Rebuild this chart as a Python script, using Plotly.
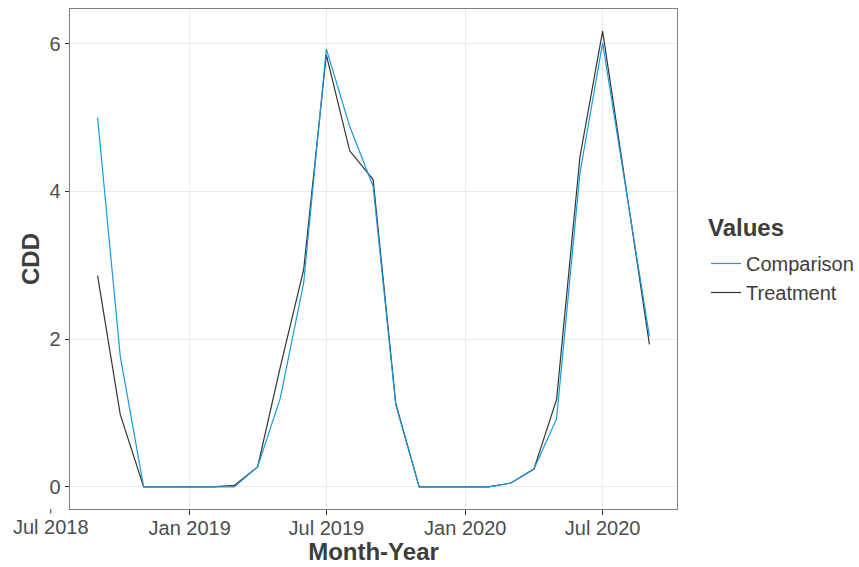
import plotly.graph_objects as go
import pandas as pd

# ---- data ----
months = ["2018-09-01", "2018-10-01", "2018-11-01", "2018-12-01",
          "2019-01-01", "2019-02-01", "2019-03-01", "2019-04-01",
          "2019-05-01", "2019-06-01", "2019-07-01", "2019-08-01",
          "2019-09-01", "2019-10-01", "2019-11-01", "2019-12-01",
          "2020-01-01", "2020-02-01", "2020-03-01", "2020-04-01",
          "2020-05-01", "2020-06-01", "2020-07-01", "2020-09-01"]
comparison = [5.00, 1.77, 0.00, 0.00, 0.00, 0.00, 0.00, 0.27,
              1.20, 2.76, 5.93, 4.88, 4.07, 1.11, 0.00, 0.00,
              0.00, 0.00, 0.05, 0.24, 0.92, 4.25, 6.01, 2.04]
treatment = [2.86, 0.98, 0.00, 0.00, 0.00, 0.00, 0.02, 0.27,
             1.62, 2.94, 5.85, 4.55, 4.16, 1.13, 0.00, 0.00,
             0.00, 0.00, 0.05, 0.24, 1.18, 4.47, 6.17, 1.93]
tick_dates = ["2018-07-01", "2019-01-01", "2019-07-01", "2020-01-01", "2020-07-01"]
tick_labels = ["Jul 2018", "Jan 2019", "Jul 2019", "Jan 2020", "Jul 2020"]

BLUE = "#1B98E0"
DARK = "#333333"
FONT = "Liberation Sans, Arial, sans-serif"

W, H = 859, 567
ML, MR, MT, MB = 70, 182, 9, 58
plot_w = W - ML - MR
plot_h = H - MT - MB

# ggplot-like 5% expansion of the date range
d = pd.to_datetime(months)
span = d.max() - d.min()
x0 = d.min() - span * 0.05
x1 = d.max() + span * 0.05

fig = go.Figure()
fig.add_trace(go.Scatter(x=months, y=treatment, mode="lines", name="Treatment",
                         line=dict(color=DARK, width=1.2), legendrank=2))
fig.add_trace(go.Scatter(x=months, y=comparison, mode="lines", name="Comparison",
                         line=dict(color=BLUE, width=1.2), legendrank=1))

# first tick (Jul 2018) lies outside the panel: draw it in paper coords
frac = (pd.Timestamp(tick_dates[0]) - x0) / (x1 - x0)
fig.add_shape(type="line", xref="paper", yref="paper", x0=frac, x1=frac,
              y0=0, y1=-4.5 / plot_h, line=dict(color=DARK, width=1))
fig.add_annotation(xref="paper", yref="paper", x=frac, y=0, yanchor="top",
                   xanchor="center", yshift=-5, showarrow=False,
                   text=tick_labels[0], font=dict(family=FONT, size=20, color="#4D4D4D"))

# legend title
leg_left = (706 - ML) / plot_w
fig.add_annotation(xref="paper", yref="paper", x=leg_left, y=(H - MB - 227) / plot_h,
                   xanchor="left", yanchor="middle", showarrow=False,
                   text="<b>Values</b>", font=dict(family=FONT, size=24, color="#3D3D3D"))

fig.update_layout(
    width=W, height=H, autosize=False,
    margin=dict(l=ML, r=MR, t=MT, b=MB, autoexpand=False),
    plot_bgcolor="white", paper_bgcolor="white",
    font=dict(family=FONT, size=20, color="#4D4D4D"),
    legend=dict(
        font=dict(family=FONT, size=20, color="#3D3D3D"),
        x=leg_left, xanchor="left", y=(H - MB - 244) / plot_h, yanchor="top",
        bgcolor="rgba(0,0,0,0)",
    ),
    xaxis=dict(
        type="date", range=[x0, x1], automargin=False,
        tickvals=tick_dates[1:], ticktext=tick_labels[1:],
        ticks="outside", ticklen=4.5, tickcolor=DARK, tickwidth=1,
        ticklabelstandoff=-4,
        tickfont=dict(family=FONT, size=20, color="#4D4D4D"),
        showgrid=True, gridcolor="#EBEBEB", gridwidth=1,
        showline=True, mirror=True, linecolor="#808080", linewidth=1,
        zeroline=False,
        title=dict(text="Month-Year", standoff=2,
                   font=dict(family=FONT, size=24, color="#3D3D3D", weight="bold")),
    ),
    yaxis=dict(
        range=[-0.30, 6.47], automargin=False,
        tickvals=[0, 2, 4, 6],
        ticks="outside", ticklen=4.5, tickcolor=DARK, tickwidth=1,
        tickfont=dict(family=FONT, size=20, color="#4D4D4D"),
        showgrid=True, gridcolor="#EBEBEB", gridwidth=1,
        showline=True, mirror=True, linecolor="#808080", linewidth=1,
        zeroline=False,
        title=dict(text="CDD", standoff=2,
                   font=dict(family=FONT, size=24, color="#3D3D3D", weight="bold")),
    ),
)

fig.write_html("out.html", config={"displayModeBar": False},
               post_script="document.body.style.margin='0px';")
